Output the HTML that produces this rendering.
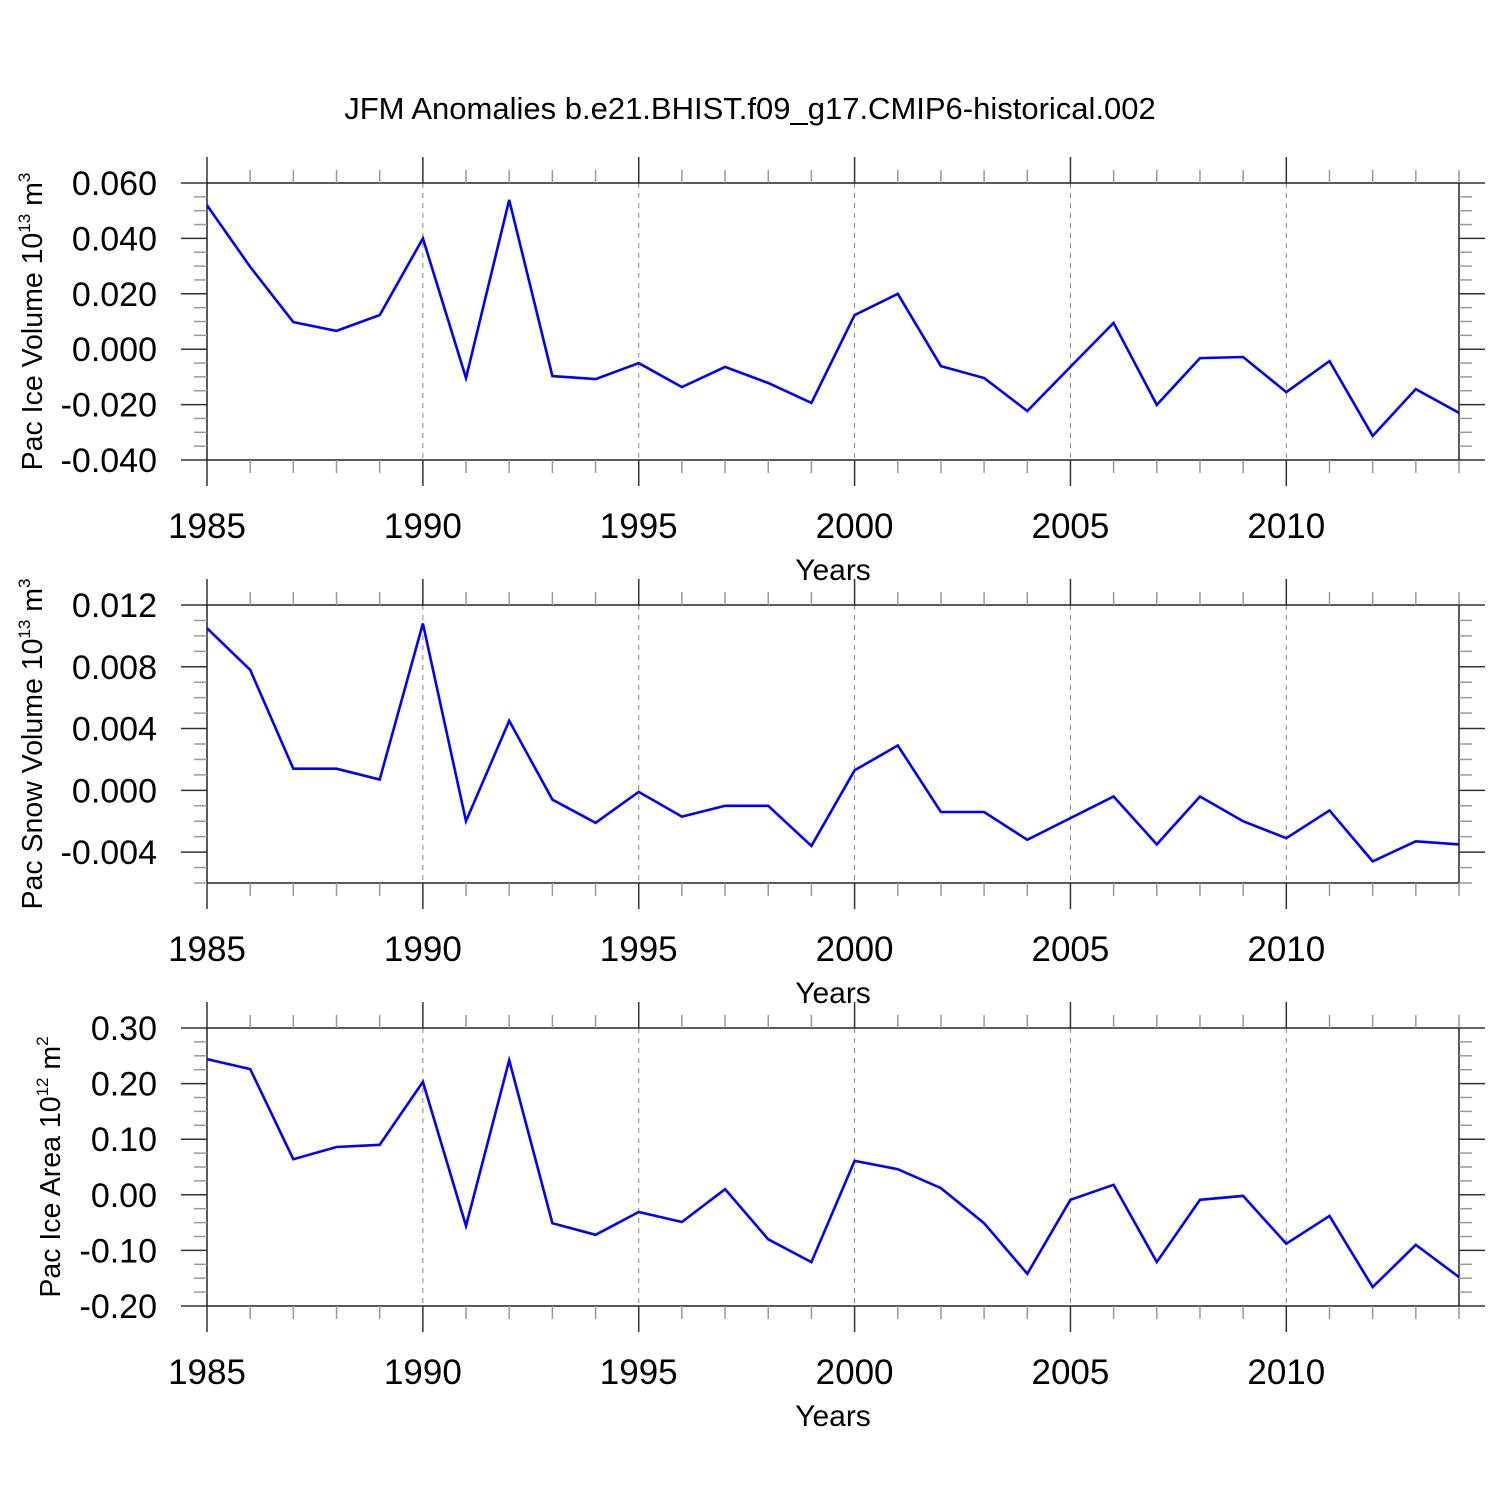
<!DOCTYPE html>
<html><head><meta charset="utf-8"><style>
body{margin:0;background:#fff}
svg{display:block;font-family:"Liberation Sans",Arial,sans-serif}
</style></head><body>
<svg id="chart" width="1500" height="1500" viewBox="0 0 1500 1500">
<text x="750" y="119" text-anchor="middle" font-size="31">JFM Anomalies b.e21.BHIST.f09_g17.CMIP6-historical.002</text>
</svg>
<script>
const years = [1985,1986,1987,1988,1989,1990,1991,1992,1993,1994,1995,1996,1997,1998,1999,2000,2001,2002,2003,2004,2005,2006,2007,2008,2009,2010,2011,2012,2013,2014];
const iceVolume = [0.052,0.0297,0.0098,0.0066,0.0123,0.040,-0.0104,0.0539,-0.0097,-0.0108,-0.0050,-0.0137,-0.0064,-0.0122,-0.0194,0.0123,0.020,-0.0061,-0.0104,-0.0223,-0.0064,0.0095,-0.0201,-0.0032,-0.0028,-0.0155,-0.0043,-0.0313,-0.0144,-0.0230];
const snowVolume = [0.0105,0.0078,0.0014,0.0014,0.0007,0.0108,-0.0020,0.0045,-0.0006,-0.0021,-0.0001,-0.0017,-0.0010,-0.0010,-0.0036,0.0013,0.0029,-0.0014,-0.0014,-0.0032,-0.0018,-0.0004,-0.0035,-0.0004,-0.0020,-0.0031,-0.0013,-0.0046,-0.0033,-0.0035];
const iceArea = [0.244,0.226,0.064,0.086,0.090,0.203,-0.056,0.242,-0.051,-0.072,-0.031,-0.049,0.010,-0.080,-0.121,0.061,0.046,0.012,-0.051,-0.142,-0.009,0.018,-0.121,-0.009,-0.002,-0.088,-0.038,-0.166,-0.090,-0.148];
const xTicks = [1985,1990,1995,2000,2005,2010];
const iceVolTicks = [0.06,0.04,0.02,0,-0.02,-0.04];
const snowTicks = [0.012,0.008,0.004,0,-0.004];
const areaTicks = [0.3,0.2,0.1,0,-0.1,-0.2];

const NS='http://www.w3.org/2000/svg';
const svg=document.getElementById('chart');
function mk(tag,attrs,parent){const e=document.createElementNS(NS,tag);for(const k in attrs)e.setAttribute(k,attrs[k]);(parent||svg).appendChild(e);return e;}
const X0=207,X1=1459;
function xs(v){return X0+(v-1985)/(2014-1985)*(X1-X0);}

function panel(cfg){
  const {top,bot,ymin,ymax,ticks,minorStep,vals,fmt,titleParts,titleX,name}=cfg;
  const g=mk('g',{});
  
  
  const ys=v=>bot-(v-ymin)/(ymax-ymin)*(bot-top);
  xTicks.slice(1).forEach(t=>{
    const l=mk('line',{x1:xs(t),x2:xs(t),y1:top,y2:bot,stroke:'#888','stroke-width':1,'stroke-dasharray':'5,5'},g);
    
    
  });
  const box=mk('rect',{x:X0,y:top,width:X1-X0,height:bot-top,fill:'none',stroke:'#000','stroke-width':1.3},g);
  
  
  for(let yr=1985;yr<=2014;yr++){
    const maj=yr%5===0;const L=maj?26:13;const x=xs(yr);
    mk('line',{x1:x,x2:x,y1:top,y2:top-L,stroke:maj?'#333':'#999','stroke-width':1.5},g);
    mk('line',{x1:x,x2:x,y1:bot,y2:bot+L,stroke:maj?'#333':'#999','stroke-width':1.5},g);
  }
  xTicks.forEach(t=>{
    const tx=mk('text',{x:xs(t),y:bot+78,'text-anchor':'middle','font-size':35},g);
    tx.textContent=t;
    
    
  });
  const xt=mk('text',{x:833,y:bot+120,'text-anchor':'middle','font-size':30},g);
  xt.textContent='Years';
  
  
  const n=Math.round((ymax-ymin)/minorStep);
  for(let i=0;i<=n;i++){
    const v=ymin+i*minorStep;const y=ys(v);
    const maj=ticks.some(t=>Math.abs(t-v)<minorStep/10);const L=maj?26:13;
    mk('line',{x1:X0,x2:X0-L,y1:y,y2:y,stroke:maj?'#333':'#999','stroke-width':1.5},g);
    mk('line',{x1:X1,x2:X1+L,y1:y,y2:y,stroke:maj?'#333':'#999','stroke-width':1.5},g);
  }
  ticks.forEach(t=>{
    const tx=mk('text',{x:157,y:ys(t)+12,'text-anchor':'end','font-size':34},g);
    tx.textContent=fmt(t);
    
    
  });
  const cy=(top+bot)/2;
  const yt=mk('text',{x:0,y:0,'text-anchor':'middle','font-size':28.5,transform:`translate(${titleX},${cy}) rotate(-90)`},g);
  
  
  const a=mk('tspan',{},yt);a.textContent=titleParts[0];
  const s1=mk('tspan',{'font-size':17,dy:-12},yt);s1.textContent=titleParts[1];
  const b=mk('tspan',{dy:12},yt);b.textContent=titleParts[2];
  const s2=mk('tspan',{'font-size':17,dy:-12},yt);s2.textContent=titleParts[3];
  const pts=vals.map((v,i)=>xs(years[i]).toFixed(1)+','+ys(v).toFixed(1)).join(' ');
  const pl=mk('polyline',{points:pts,fill:'none',stroke:'#0000ff','stroke-width':2.6,'stroke-linejoin':'miter'},g);
  
  
}
panel({name:'ice-volume',top:183,bot:460,ymin:-0.04,ymax:0.06,ticks:iceVolTicks,minorStep:0.005,vals:iceVolume,fmt:v=>v.toFixed(3),titleParts:['Pac Ice Volume 10','13',' m','3'],titleX:42});
panel({name:'snow-volume',top:605,bot:883,ymin:-0.006,ymax:0.012,ticks:snowTicks,minorStep:0.001,vals:snowVolume,fmt:v=>v.toFixed(3),titleParts:['Pac Snow Volume 10','13',' m','3'],titleX:42});
panel({name:'ice-area',top:1028,bot:1306,ymin:-0.2,ymax:0.3,ticks:areaTicks,minorStep:0.025,vals:iceArea,fmt:v=>v.toFixed(2),titleParts:['Pac Ice Area 10','12',' m','2'],titleX:60});
</script>
</body></html>
